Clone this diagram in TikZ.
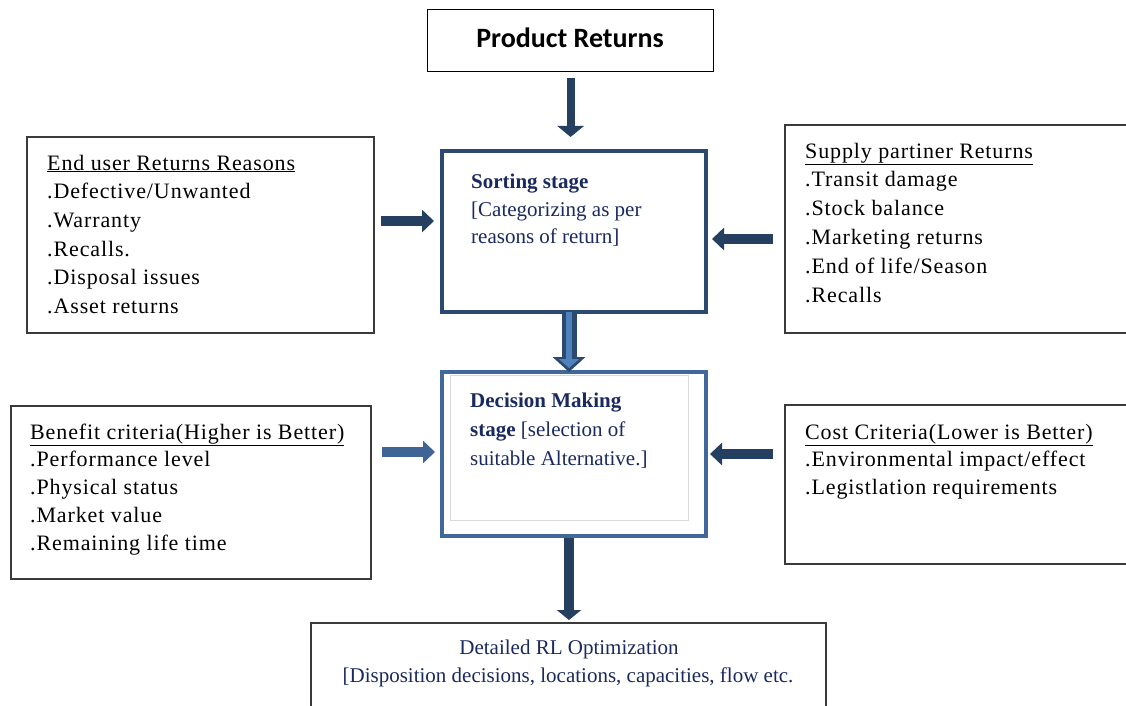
\documentclass[tikz,border=0pt]{standalone}
\usepackage{fontspec}
\setmainfont{Liberation Serif}
\newfontfamily\calib{Carlito}
\newfontfamily\listfont[LetterSpace=4]{Liberation Serif}
\usetikzlibrary{arrows.meta}

\definecolor{arrowdark}{HTML}{243F60}
\definecolor{arrowmid}{HTML}{3F6496}
\definecolor{arrowlight}{HTML}{4F81BD}
\definecolor{sortborder}{HTML}{2C4A70}
\definecolor{decborder}{HTML}{41689B}
\definecolor{navytext}{HTML}{1B2A5E}
\definecolor{boxline}{HTML}{3A3A3A}

\tikzset{
  plainbox/.style={draw=boxline, line width=1.6pt, fill=white, inner sep=0pt, anchor=north west},
  stagebox/.style={line width=4pt, fill=white, inner sep=0pt, anchor=north west},
  listtext/.style={anchor=base west, inner sep=0pt, font=\listfont\fontsize{22}{26}\selectfont},
  stagetext/.style={anchor=base west, inner sep=0pt, text=navytext, font=\fontsize{21}{25}\selectfont},
  blockarrow/.style={line width=10pt, -{Triangle[length=12pt,width=22pt]}},
}

\begin{document}
\begin{tikzpicture}[x=1pt,y=-1pt]
\useasboundingbox (0,0) rectangle (1126,706);
\clip (0,0) rectangle (1126,706);
\fill[white] (0,0) rectangle (1126,706);

% ---------- boxes ----------
\node[plainbox, line width=1.2pt, draw=black, minimum width=286pt, minimum height=62pt] (prod) at (427,9) {};
\node[font=\calib\bfseries\fontsize{28}{32}\selectfont, inner sep=0pt, anchor=base] (prodt) at (570,48) {Product Returns};

\node[stagebox, draw=sortborder, minimum width=264pt, minimum height=161pt] (sort) at (440,149) {};
\node[stagebox, draw=decborder, minimum width=264pt, minimum height=164pt] (dec) at (440,370) {};
\node[draw=black!15, line width=1pt, inner sep=0pt, anchor=north west, minimum width=238pt, minimum height=145pt] (decin) at (450,375) {};

\node[plainbox, minimum width=347pt, minimum height=196pt] (endu) at (26,136) {};
\node[plainbox, minimum width=360pt, minimum height=208pt] (supp) at (784,124) {};
\node[plainbox, minimum width=360pt, minimum height=173pt] (bene) at (10,405) {};
\node[plainbox, minimum width=360pt, minimum height=159pt] (cost) at (784,404) {};
\node[plainbox, minimum width=515pt, minimum height=120pt] (opt) at (310,622) {};

% ---------- texts ----------
\foreach \t [count=\i] in {\underline{End user Returns Reasons}, .Defective/Unwanted, .Warranty, .Recalls., .Disposal issues, .Asset returns}
  \node[listtext] (eu\i) at (47,{170+28.7*(\i-1)}) {\t};

\foreach \t [count=\i] in {\underline{Supply partiner Returns}, .Transit damage, .Stock balance, .Marketing returns, .End of life/Season, .Recalls}
  \node[listtext] (sp\i) at (805,{158+28.8*(\i-1)}) {\t};

\foreach \t [count=\i] in {\underline{Benefit criteria(Higher is Better)}, .Performance level, .Physical status, .Market value, .Remaining life time}
  \node[listtext] (bc\i) at (30,{439+27.8*(\i-1)}) {\t};

\foreach \t [count=\i] in {\underline{Cost Criteria(Lower is Better)}, .Environmental impact/effect, .Legistlation requirements}
  \node[listtext] (cc\i) at (805,{439+27.5*(\i-1)}) {\t};

\node[stagetext] (st1) at (471,188) {\textbf{Sorting stage}};
\node[stagetext] (st2) at (471,216) {[Categorizing as per};
\node[stagetext] (st3) at (471,243) {reasons of return]};

\node[stagetext] (dm1) at (470,407) {\textbf{Decision Making}};
\node[stagetext] (dm2) at (470,436) {\textbf{stage} [selection of};
\node[stagetext] (dm3) at (470,465) {suitable Alternative.]};

\node[stagetext, anchor=base] (op1) at (569,654) {Detailed RL Optimization};
\node[stagetext, anchor=base] (op2) at (568,682) {[Disposition decisions, locations, capacities, flow etc.};

% ---------- arrows ----------
\draw[arrowdark, line width=8pt, -{Triangle[length=11pt,width=26pt]}, shorten <=6pt, shorten >=12pt]
  (prod.south) -- (prod.south |- sort.north);

\coordinate (a1) at (381,221);
\draw[blockarrow, arrowdark, shorten >=6pt] (a1) -- (a1 -| sort.west);
\coordinate (a2) at (773,239);
\draw[blockarrow, arrowdark, shorten >=4pt] (a2) -- (a2 -| sort.east);
\coordinate (a3) at (382,452);
\draw[blockarrow, arrowmid, shorten >=5pt] (a3) -- (a3 -| dec.west);
\coordinate (a4) at (773,454);
\draw[blockarrow, arrowdark, shorten >=2pt] (a4) -- (a4 -| dec.east);

% sorting -> decision: outlined block arrow
\coordinate (m1) at (569,312);
\coordinate (m2) at (569,372);
\draw[sortborder, line width=15pt, -{Triangle[length=15pt,width=32pt]}] (m1) -- (m2);
\draw[arrowlight, line width=6pt, -{Triangle[length=9pt,width=20pt]}, shorten >=4pt] (m1) -- (m2);

\draw[arrowdark, line width=10pt, -{Triangle[length=10pt,width=24pt]}, shorten >=2pt]
  (dec.south -| m1) -- (opt.north -| m1);
\end{tikzpicture}
\end{document}
